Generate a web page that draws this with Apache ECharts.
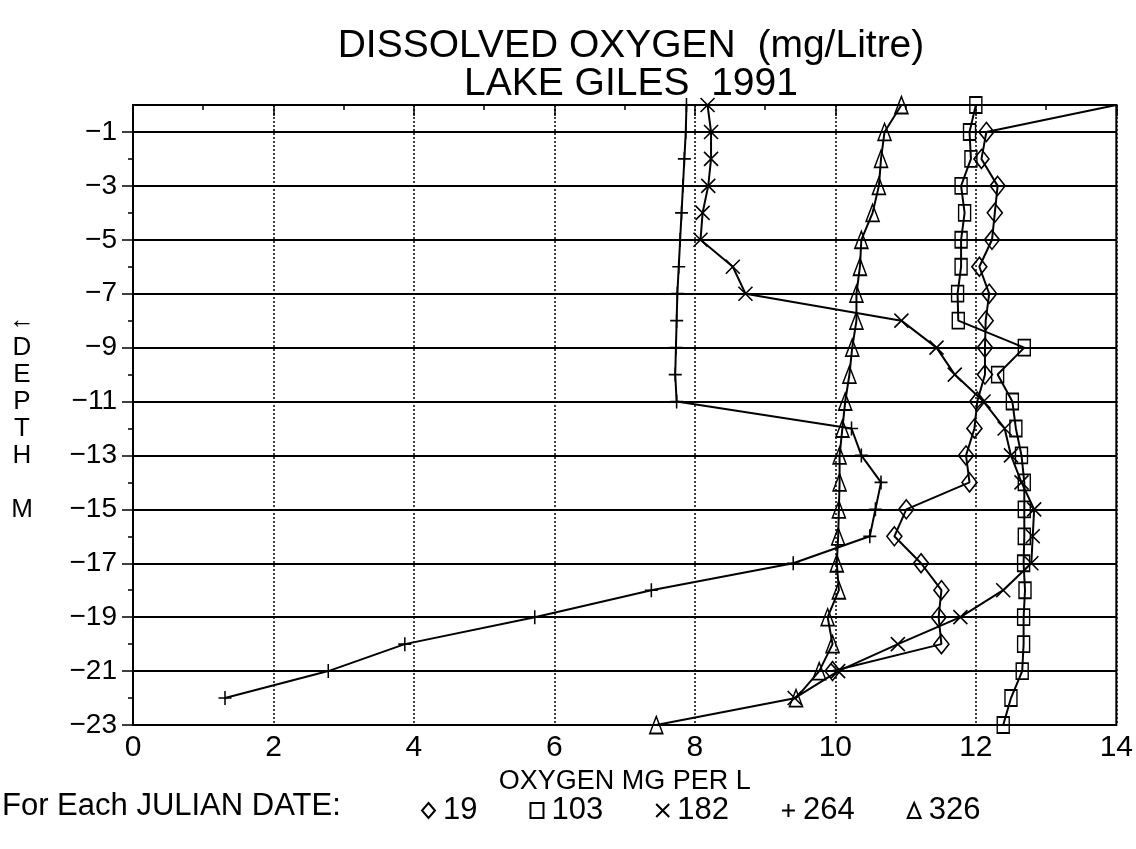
<!DOCTYPE html>
<html>
<head>
<meta charset="utf-8">
<title>Dissolved oxygen - Lake Giles 1991</title>
<script src="https://cdn.jsdelivr.net/npm/echarts@6/dist/echarts.min.js"></script>
<style>
  html, body { margin: 0; padding: 0; background: #fff; }
  #doChart { width: 1136px; height: 849px; }
</style>
</head>
<body>
<div id="doChart"></div>
<script>
// depth in metres (negative downward), one entry per reading
var depths = [0, -1, -2, -3, -4, -5, -6, -7, -8, -9, -10, -11, -12, -13, -14, -15, -16, -17, -18, -19, -20, -21, -22, -23];

// oxygen mg/L for each julian date, read top to bottom
var day19 = [14.0, 12.15, 12.08, 12.31, 12.27, 12.23, 12.05, 12.19, 12.14, 12.13, 12.13, 12.02, 11.98, 11.86, 11.91, 11.01, 10.84, 11.22, 11.51, 11.47, 11.51, 9.96];
var day103 = [12.00, 11.91, 11.93, 11.79, 11.84, 11.79, 11.79, 11.74, 11.75, 12.69, 12.31, 12.52, 12.57, 12.65, 12.69, 12.69, 12.69, 12.68, 12.70, 12.68, 12.68, 12.66, 12.50, 12.39];
var day182 = [8.18, 8.23, 8.23, 8.19, 8.11, 8.08, 8.54, 8.72, 10.94, 11.44, 11.70, 12.11, 12.41, 12.50, 12.65, 12.83, 12.81, 12.79, 12.39, 11.78, 10.89, 10.04, 9.42];
var day264 = [7.88, 7.87, 7.85, 7.83, 7.81, 7.79, 7.77, 7.75, 7.74, 7.73, 7.72, 7.74, 10.23, 10.37, 10.65, 10.57, 10.49, 9.40, 7.38, 5.72, 3.87, 2.78, 1.31];
var day326 = [10.94, 10.70, 10.65, 10.62, 10.53, 10.37, 10.35, 10.30, 10.30, 10.24, 10.20, 10.14, 10.10, 10.06, 10.06, 10.05, 10.04, 10.02, 10.05, 9.89, 9.96, 9.77, 9.44, 7.45];

var depthLabels = [-1, -3, -5, -7, -9, -11, -13, -15, -17, -19, -21, -23];
var depthMinor = [-2, -4, -6, -8, -10, -12, -14, -16, -18, -20, -22];
var oxyMax = 14;

var FONT = 'Liberation Sans';
var crossPath = 'path://M0,0L10,10M10,0L0,10';
var plusPath = 'path://M5,0L5,10M0,5L10,5';

function pairs(vals) {
  return vals.map(function (v, i) {
    // the plotter clipped marks sitting on the right frame
    if (v >= oxyMax) return { value: [v, depths[i]], symbol: 'none' };
    return [v, depths[i]];
  });
}

function profile(name, vals, symbol, size) {
  return {
    name: name,
    type: 'line',
    data: pairs(vals),
    symbol: symbol,
    symbolSize: size,
    showAllSymbol: true,
    lineStyle: { color: '#000', width: 2 },
    itemStyle: { color: 'rgba(0,0,0,0)', borderColor: '#000', borderWidth: 1.6 },
    emphasis: { disabled: true },
    z: 5
  };
}

var chart = echarts.init(document.getElementById('doChart'));
chart.setOption({
  backgroundColor: '#fff',
  animation: false,
  title: {
    text: 'DISSOLVED OXYGEN  (mg/Litre)\nLAKE GILES  1991',
    left: 626,
    top: 22,
    textAlign: 'center',
    textStyle: { fontFamily: FONT, fontWeight: 'normal', fontSize: 39, lineHeight: 38, color: '#000' }
  },
  legend: {
    left: 416,
    top: 790,
    itemGap: 52,
    itemWidth: 13,
    itemHeight: 15,
    selectedMode: false,
    textStyle: { fontFamily: FONT, fontSize: 31, color: '#000', padding: [0, 0, 0, 3] },
    data: [
      { name: '19', icon: 'diamond' },
      { name: '103', icon: 'rect' },
      { name: '182', icon: crossPath },
      { name: '264', icon: plusPath },
      { name: '326', icon: 'triangle' }
    ]
  },
  graphic: [{
    type: 'text',
    left: 2,
    top: 791,
    style: { text: 'For Each JULIAN DATE:', font: '31px "Liberation Sans"', fill: '#000' }
  }],
  grid: {
    left: 133,
    right: 19,
    top: 105,
    bottom: 124,
    show: true,
    borderColor: '#000',
    borderWidth: 2
  },
  xAxis: {
    type: 'value',
    min: 0,
    max: oxyMax,
    interval: 2,
    name: 'OXYGEN MG PER L',
    nameLocation: 'middle',
    nameGap: 34,
    nameTextStyle: { fontFamily: FONT, fontSize: 27, color: '#000' },
    axisLine: { lineStyle: { color: '#000', width: 2 } },
    axisTick: { length: 11, lineStyle: { color: '#000', width: 1.5 } },
    minorTick: { show: true, splitNumber: 2, length: 5, lineStyle: { color: '#000', width: 1.5 } },
    axisLabel: { fontFamily: FONT, fontSize: 30, color: '#000', margin: 8 },
    splitLine: { show: true, lineStyle: { color: '#000', width: 1.5, type: [2, 2] } }
  },
  yAxis: [{
    type: 'value',
    min: -23,
    max: 0,
    name: '\u2190\nD\nE\nP\nT\nH\n\nM',
    nameLocation: 'middle',
    nameRotate: 0,
    nameGap: 111,
    nameTextStyle: { fontFamily: FONT, fontSize: 26, lineHeight: 27, color: '#000', align: 'center' },
    axisLine: { lineStyle: { color: '#000', width: 2 } },
    axisTick: { customValues: depthLabels, length: 11, lineStyle: { color: '#000', width: 1.5 } },
    axisLabel: {
      customValues: depthLabels,
      fontFamily: FONT,
      fontSize: 28,
      color: '#000',
      margin: 16,
      formatter: function (v) { return String(v).replace('-', '\u2212'); }
    },
    splitLine: { show: true, lineStyle: { color: '#000', width: 2 } }
  }, {
    // minor ticks at the even depths
    type: 'value',
    min: -23,
    max: 0,
    position: 'left',
    axisLine: { show: false },
    axisTick: { customValues: depthMinor, length: 5, lineStyle: { color: '#000', width: 1.5 } },
    axisLabel: { show: false },
    splitLine: { show: false }
  }],
  series: [
    profile('19', day19, 'diamond', [15, 19]),
    profile('103', day103, 'rect', [12, 16]),
    profile('182', day182, crossPath, [14, 14]),
    profile('264', day264, plusPath, [13, 14]),
    profile('326', day326, 'triangle', [13, 17])
  ]
});
window.addEventListener('resize', chart.resize);
</script>
</body>
</html>
